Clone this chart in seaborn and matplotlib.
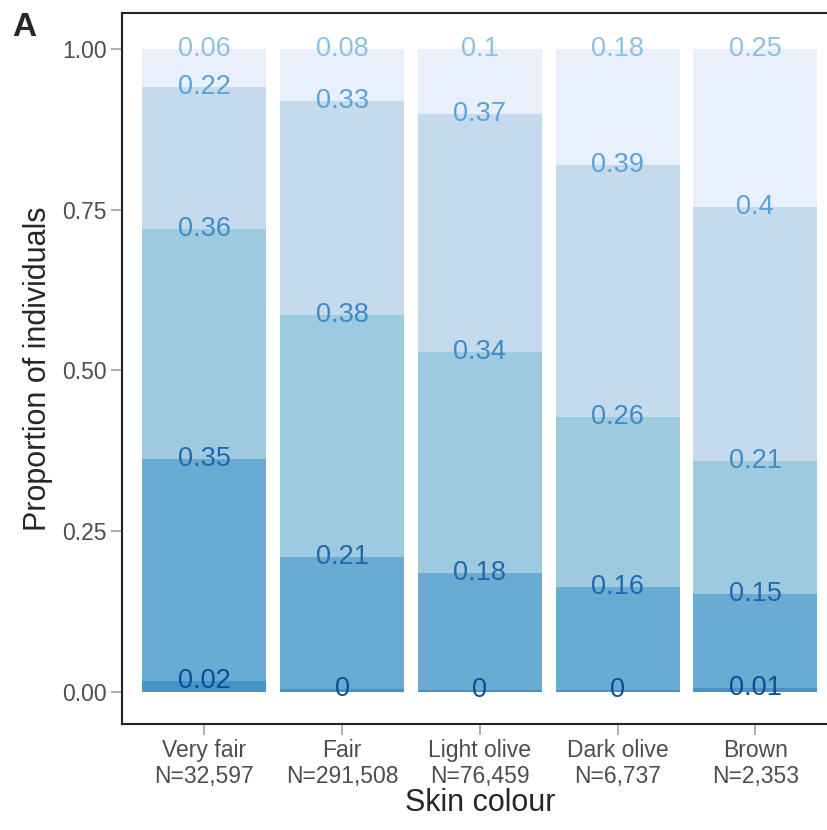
import numpy as np
import pandas as pd
import seaborn as sns
from matplotlib import pyplot as plt

# skin colour categories and sample sizes
skin = ["Very fair", "Fair", "Light olive", "Dark olive", "Brown"]
n_obs = ["32,597", "291,508", "76,459", "6,737", "2,353"]

# proportions per response level, bottom segment first
level1 = [0.016, 0.004, 0.002, 0.002, 0.006]
level2 = [0.346, 0.206, 0.183, 0.161, 0.146]
level3 = [0.358, 0.376, 0.344, 0.264, 0.207]
level4 = [0.221, 0.333, 0.370, 0.393, 0.395]
level5 = [0.059, 0.081, 0.101, 0.180, 0.246]

fill_colours = ["#4593c8", "#6aabd4", "#9ecae0", "#c6daee", "#e9f0fb"]
text_colours = ["#0c4d96", "#1f68ae", "#3d8cc6", "#5aa4d4", "#8ec1df"]

levels = [level1, level2, level3, level4, level5]
tops = np.cumsum(np.array(levels), axis=0)

sns.set_style("white")
plt.rcParams["font.family"] = ["Liberation Sans", "DejaVu Sans"]

fig = plt.figure(figsize=(8.28, 8.30), dpi=100)
ax = fig.add_axes([0.147, 0.128, 0.865, 0.856])

# overlapping bars, tallest cumulative first
for k in range(len(levels) - 1, -1, -1):
    df = pd.DataFrame({"skin": skin, "top": tops[k]})
    sns.barplot(data=df, x="skin", y="top", color=fill_colours[k],
                saturation=1, width=0.9, linewidth=0, ax=ax)

for k in range(len(levels)):
    for i in range(len(skin)):
        lab = f"{round(levels[k][i], 2):g}"
        ax.text(i, tops[k][i], lab, ha="center", va="center",
                fontsize=19.5, color=text_colours[k])

ax.set_xlim(-0.6, 4.6)
ax.set_ylim(-0.05, 1.056)
ax.set_yticks([0, 0.25, 0.5, 0.75, 1.0])
ax.set_yticklabels(["0.00", "0.25", "0.50", "0.75", "1.00"])
ax.set_xticks(range(len(skin)))
ax.set_xticklabels([f"{s}\nN={n}" for s, n in zip(skin, n_obs)], linespacing=1.15)
ax.tick_params(axis="both", labelsize=16.5, labelcolor="#4d4d4d", color="#999999",
               length=8, width=1.1, direction="out", bottom=True, left=True, pad=3)
ax.set_xlabel("Skin colour", fontsize=22, labelpad=0)
ax.set_ylabel("Proportion of individuals", fontsize=22, labelpad=6)
for side in ax.spines.values():
    side.set_color("#222222")
    side.set_linewidth(1.5)

fig.text(0.015, 0.985, "A", fontsize=24, fontweight="bold", va="top", ha="left")

fig.savefig("out.png", dpi=100)
